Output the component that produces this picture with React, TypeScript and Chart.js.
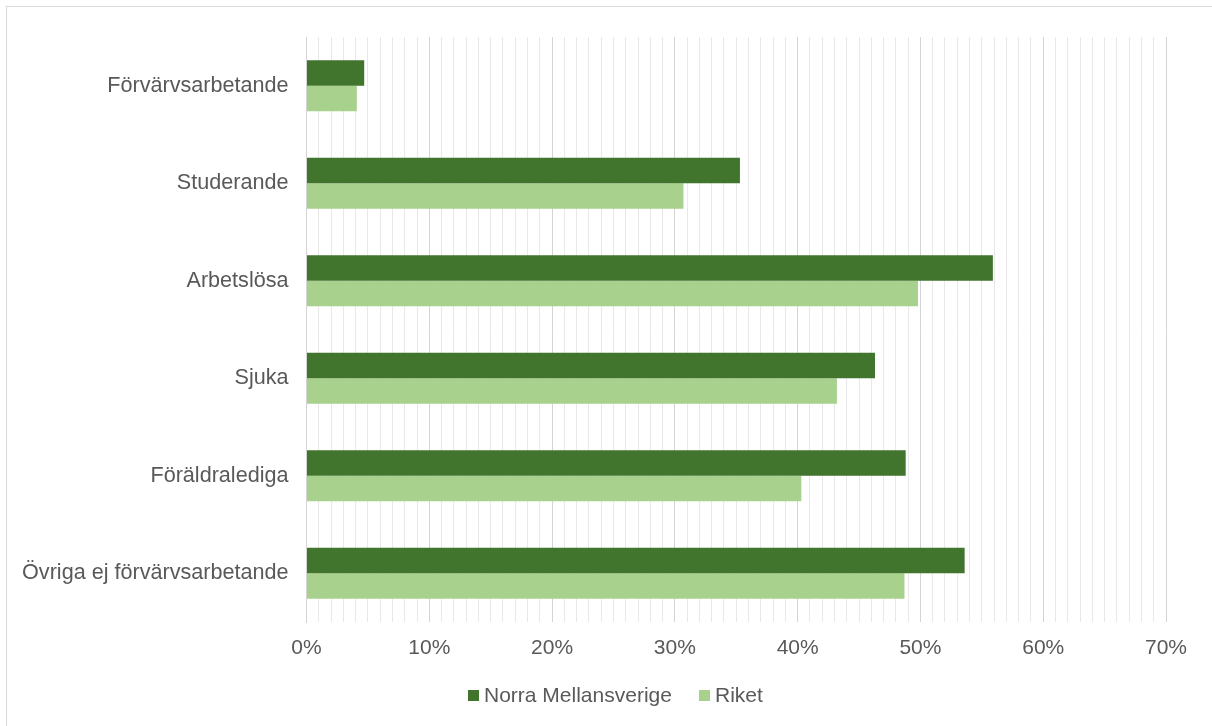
import React, { useEffect, useRef } from "react";
import { Chart, registerables } from "chart.js";

Chart.register(...registerables);

const categories = [
  "Förvärvsarbetande",
  "Studerande",
  "Arbetslösa",
  "Sjuka",
  "Föräldralediga",
  "Övriga ej förvärvsarbetande",
];
const seriesNames = ["Norra Mellansverige", "Riket"];
const seriesColors = ["#41752d", "#a9d18e"];
const norraMellansverige = [4.7, 35.3, 55.9, 46.3, 48.8, 53.6];
const riket = [4.1, 30.7, 49.8, 43.2, 40.3, 48.7];
const xMin = 0;
const xMax = 70;
const xMajorStep = 10;

const FONT = "'Liberation Sans', Arial, sans-serif";
const TEXT = "#595959";
const FS = 21;

export default function App() {
  const ref = useRef<HTMLCanvasElement | null>(null);

  useEffect(() => {
    document.body.style.margin = "0";
    const canvas = ref.current;
    if (!canvas) return;
    const chart = new Chart(canvas, {
      type: "bar",
      data: {
        labels: categories,
        datasets: [
          {
            label: seriesNames[0],
            data: norraMellansverige,
            backgroundColor: seriesColors[0],
            barPercentage: 1,
            categoryPercentage: 0.525,
          },
          {
            label: seriesNames[1],
            data: riket,
            backgroundColor: seriesColors[1],
            barPercentage: 1,
            categoryPercentage: 0.525,
          },
        ],
      },
      options: {
        indexAxis: "y",
        animation: false,
        responsive: false,
        maintainAspectRatio: false,
        layout: { padding: { left: 0, right: 46, top: 37, bottom: 51 } },
        scales: {
          x: {
            min: xMin,
            max: xMax,
            afterFit: (s: any) => {
              s.height = 53;
            },
            ticks: {
              stepSize: 1,
              autoSkip: false,
              maxRotation: 0,
              padding: 14,
              color: TEXT,
              font: { family: FONT, size: FS },
              callback: (v: any) => (Number(v) % xMajorStep === 0 ? v + "%" : ""),
            },
            grid: {
              drawTicks: false,
              lineWidth: 1,
              color: (ctx: any) =>
                ctx.tick && ctx.tick.value % xMajorStep === 0 ? "#d4d4d4" : "#e8e8e8",
            },
            border: { display: false },
          },
          y: {
            afterFit: (s: any) => {
              s.width = 306.5;
            },
            ticks: {
              padding: 18,
              color: TEXT,
              font: { family: FONT, size: 21.6 },
            },
            grid: { display: false, drawTicks: false },
            border: { display: true, color: "#d4d4d4", width: 1 },
          },
        },
        plugins: {
          legend: { display: false },
          tooltip: { enabled: false },
        },
      },
    });
    return () => chart.destroy();
  }, []);

  const legendItem = (i: number, boxLeft: number) => (
    <div
      key={i}
      style={{
        position: "absolute",
        left: boxLeft,
        top: 682,
        height: 26,
        display: "flex",
        alignItems: "center",
        fontFamily: FONT,
        fontSize: FS,
        color: TEXT,
        whiteSpace: "nowrap",
      }}
    >
      <span style={{ display: "inline-block", width: 11, height: 11, background: seriesColors[i], marginRight: 5 }} />
      <span>{seriesNames[i]}</span>
    </div>
  );

  return (
    <div style={{ position: "absolute", left: 0, top: 0, width: 1212, height: 726, background: "#fff", overflow: "hidden" }}>
      <div
        style={{
          position: "absolute",
          left: 6,
          top: 6,
          width: 1220,
          height: 740,
          borderLeft: "1.5px solid #d9d9d9",
          borderTop: "1.5px solid #d9d9d9",
          pointerEvents: "none",
        }}
      />
      <canvas ref={ref} width={1212} height={726} style={{ position: "absolute", left: 0, top: 0 }} />
      {legendItem(0, 468)}
      {legendItem(1, 699)}
    </div>
  );
}
